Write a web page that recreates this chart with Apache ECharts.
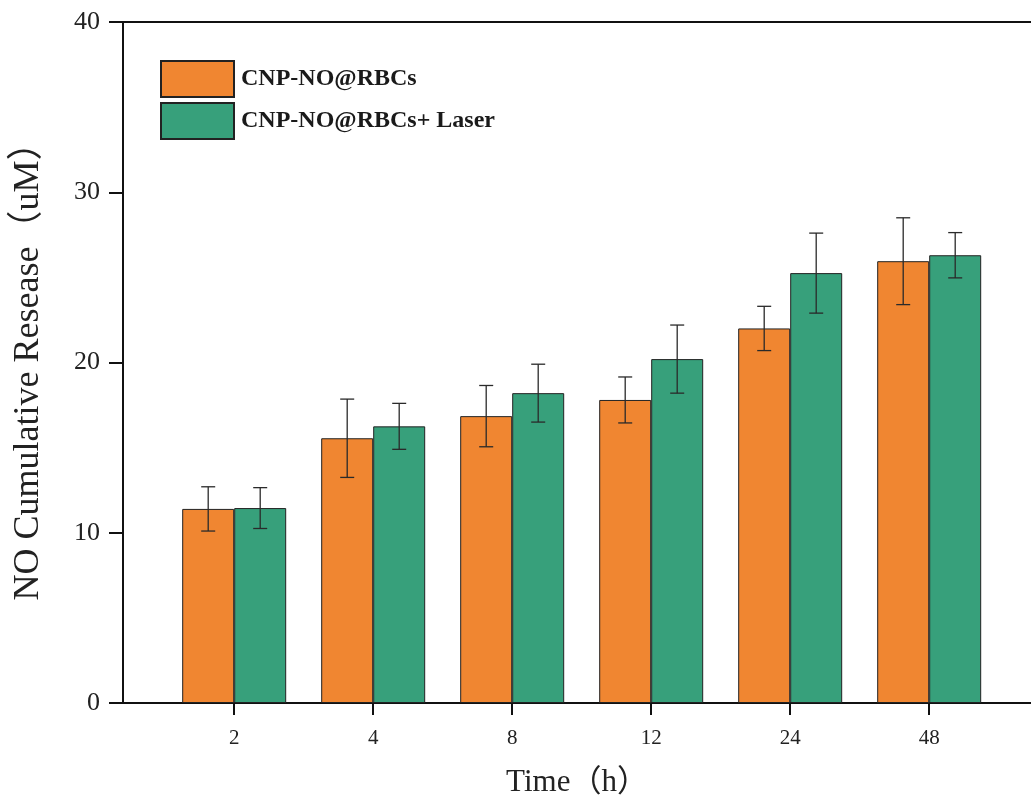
<!DOCTYPE html>
<html><head><meta charset="utf-8">
<script src="https://cdn.jsdelivr.net/npm/echarts@6/dist/echarts.min.js"></script>
<style>html,body{margin:0;padding:0;background:#fff}#c{width:1031px;height:807px}</style>
</head><body><div id="c"></div>
<script>
const categories = ['2','4','8','12','24','48'];
const seriesNames = ['CNP-NO@RBCs','CNP-NO@RBCs+ Laser'];
const releaseA = [11.4, 15.55, 16.85, 17.8, 22.0, 25.95];
const errA     = [1.3, 2.3, 1.8, 1.35, 1.3, 2.55];
const releaseB = [11.45, 16.25, 18.2, 20.2, 25.25, 26.3];
const errB     = [1.2, 1.35, 1.7, 2.0, 2.35, 1.33];
const yTicks = [0, 10, 20, 30, 40];

const BAR_W = 52;
const CAP = 14;
const colors = ['#F08631', '#37A07B'];
const FONT = "'Liberation Serif','Noto Sans CJK SC','Times New Roman',serif";
const xPos = categories.map((c, i) => i + 1);

function errData(vals, errs, side) {
  return vals.map((v, i) => [xPos[i], v, errs[i], side]);
}
function renderErr(params, api) {
  const x = api.value(0), y = api.value(1), e = api.value(2), side = api.value(3);
  const t = api.coord([x, y + e]);
  const b = api.coord([x, y - e]);
  const cx = t[0] + side * BAR_W / 2;
  const st = { stroke: '#2a2a2a', lineWidth: 1.3 };
  return {
    type: 'group',
    children: [
      { type: 'line', shape: { x1: cx, y1: t[1], x2: cx, y2: b[1] }, style: st },
      { type: 'line', shape: { x1: cx - CAP / 2, y1: t[1], x2: cx + CAP / 2, y2: t[1] }, style: st },
      { type: 'line', shape: { x1: cx - CAP / 2, y1: b[1], x2: cx + CAP / 2, y2: b[1] }, style: st }
    ]
  };
}

const chart = echarts.init(document.getElementById('c'));
const xMin = 0.2, xMax = 0.2 + 908 / 139;
chart.setOption({
  animation: false,
  backgroundColor: '#fff',
  grid: { left: 123, right: 0, top: 22, bottom: 104 },
  legend: {
    orient: 'vertical', left: 160, top: 60, padding: 0,
    itemWidth: 73, itemHeight: 36, itemGap: 4,
    icon: 'rect',
    data: seriesNames,
    textStyle: { fontFamily: FONT, fontWeight: 'bold', fontSize: 24, color: '#1a1a1a', padding: [0, 0, 0, 2] }
  },
  xAxis: [{
    type: 'value', min: xMin, max: xMax,
    axisLine: { show: true, lineStyle: { color: '#111', width: 2 } },
    axisTick: { show: true, length: 12, lineStyle: { color: '#111', width: 2 }, customValues: xPos },
    axisLabel: { customValues: xPos, margin: 25, fontFamily: FONT, fontSize: 21, color: '#222',
      formatter: v => categories[Math.round(v) - 1] || '' },
    splitLine: { show: false },
    name: 'Time（h）', nameLocation: 'middle', nameGap: 64,
    nameTextStyle: { fontFamily: FONT, fontSize: 31, color: '#222' }
  }, {
    type: 'value', min: xMin, max: xMax, position: 'top',
    axisLine: { show: true, lineStyle: { color: '#111', width: 2 } },
    axisTick: { show: false }, axisLabel: { show: false }, splitLine: { show: false }
  }],
  yAxis: {
    type: 'value', min: yTicks[0], max: yTicks[yTicks.length - 1], interval: 10,
    axisLine: { show: true, lineStyle: { color: '#111', width: 2 } },
    axisTick: { show: true, length: 14, lineStyle: { color: '#111', width: 2 } },
    axisLabel: { margin: 23, fontFamily: FONT, fontSize: 26, color: '#222' },
    splitLine: { show: false },
    name: 'NO Cumulative Resease（uM）', nameLocation: 'middle', nameGap: 76, nameRotate: 90,
    nameTextStyle: { fontFamily: FONT, fontSize: 36, color: '#222' }
  },
  series: [
    { name: seriesNames[0], type: 'bar', barWidth: BAR_W, barGap: '0%',
      data: releaseA.map((v, i) => [xPos[i], v]),
      itemStyle: { color: colors[0], borderColor: '#222', borderWidth: 1 } },
    { name: seriesNames[1], type: 'bar', barWidth: BAR_W, barGap: '0%',
      data: releaseB.map((v, i) => [xPos[i], v]),
      itemStyle: { color: colors[1], borderColor: '#222', borderWidth: 1 } },
    { type: 'custom', renderItem: renderErr, data: errData(releaseA, errA, -1), z: 10, silent: true },
    { type: 'custom', renderItem: renderErr, data: errData(releaseB, errB, 1), z: 10, silent: true }
  ]
});
</script></body></html>
